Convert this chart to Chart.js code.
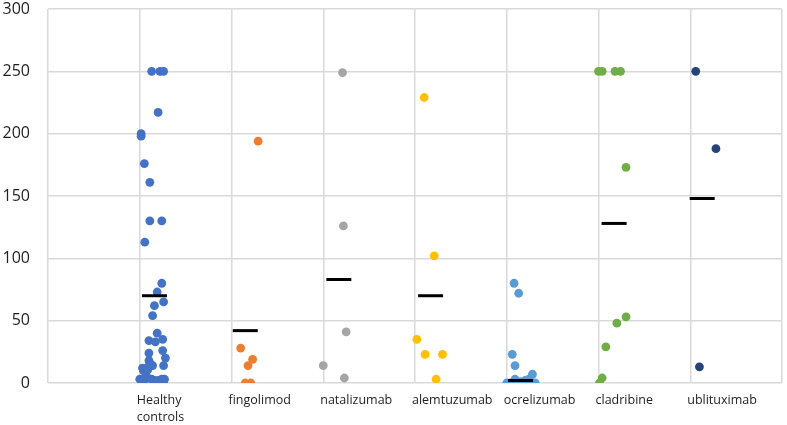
<!DOCTYPE html>
<html>
<head>
<meta charset="utf-8">
<script src="https://cdn.jsdelivr.net/npm/chart.js@4.4.1/dist/chart.umd.min.js"></script>
<style>
	html, body { margin: 0; padding: 0; background: #fff; }
	#wrap { width: 787px; height: 425px; }
</style>
</head>
<body>
<div id="wrap"><canvas id="strip-chart" width="787" height="425"></canvas></div>
<script>
// group names shown under each gridline
const categories = [
	["Healthy", "controls"],
	"fingolimod",
	"natalizumab",
	"alemtuzumab",
	"ocrelizumab",
	"cladribine",
	"ublituximab",
];

// each point is [x, value]; x is the jittered column position (group n sits at n..n+0.3)
const healthyControls = [
	[1.13, 250], [1.22, 250], [1.26, 250],
	[1.2, 217],
	[1.015, 200], [1.015, 198],
	[1.05, 176],
	[1.11, 161],
	[1.11, 130], [1.24, 130],
	[1.055, 113],
	[1.24, 80], [1.19, 73], [1.26, 65], [1.16, 62], [1.14, 54],
	[1.19, 40], [1.1, 34], [1.17, 33], [1.25, 35],
	[1.25, 26], [1.1, 24], [1.28, 20],
	[1.1, 18], [1.11, 16], [1.26, 14], [1.14, 14], [1.12, 14],
	[1.03, 12], [1.05, 11], [1.08, 12], [1.04, 10], [1.07, 9], [1.09, 11],
	[1.0, 3], [1.03, 3], [1.06, 3], [1.09, 4], [1.13, 3], [1.16, 2],
	[1.2, 2], [1.24, 3], [1.27, 3], [1.26, 0], [1.22, 1],
];
const fingolimod = [
	[2.29, 194], [2.1, 28], [2.23, 19], [2.18, 14], [2.15, 0], [2.21, 0],
];
const natalizumab = [
	[3.21, 249], [3.22, 126], [3.25, 41], [3.0, 14], [3.23, 4],
];
const alemtuzumab = [
	[4.1, 229], [4.21, 102], [4.02, 35], [4.11, 23], [4.3, 23], [4.23, 3],
];
const ocrelizumab = [
	[5.08, 80], [5.13, 72], [5.06, 23], [5.09, 14], [5.28, 7],
	[5.09, 3], [5.15, 1], [5.2, 2], [5.24, 3],
	[5.0, 0], [5.04, 0], [5.08, 0], [5.12, 0], [5.16, 0],
	[5.2, 0], [5.24, 0], [5.28, 0], [5.31, 0],
];
const cladribine = [
	[6.0, 250], [6.04, 250], [6.18, 250], [6.24, 250],
	[6.3, 173], [6.3, 53], [6.2, 48], [6.08, 29], [6.04, 4], [6.01, 0],
];
const ublituximab = [
	[7.06, 250], [7.28, 188], [7.1, 13],
];

// group means, drawn as short black dashes
const meanX = [1.16, 2.15, 3.17, 4.17, 5.15, 6.17, 7.13];
const meanValues = [70, 42, 83, 70, 2, 128, 148];

const groups = [healthyControls, fingolimod, natalizumab, alemtuzumab, ocrelizumab, cladribine, ublituximab];
const groupColors = ["#4472C4", "#ED7D31", "#A5A5A5", "#FFC000", "#5B9BD5", "#70AD47", "#264478"];

const toPoints = (pairs) => pairs.map((p) => ({ x: p[0], y: p[1] }));

const datasets = groups.map((g, i) => ({
	label: Array.isArray(categories[i]) ? categories[i].join(" ") : categories[i],
	data: toPoints(g),
	backgroundColor: groupColors[i],
	borderColor: groupColors[i],
	pointRadius: 4.4,
	borderWidth: 0,
	order: 2,
}));

datasets.push({
	label: "mean",
	data: meanX.map((x, i) => ({ x: x, y: meanValues[i] })),
	pointStyle: "line",
	pointRadius: 12.5,
	borderWidth: 3,
	borderColor: "#000",
	backgroundColor: "#000",
	order: 1,
});

const gridColor = "#d9d9d9";

const stripChart = new Chart(document.getElementById("strip-chart"), {
	type: "scatter",
	data: { datasets: datasets },
	options: {
		responsive: false,
		animation: false,
		events: [],
		layout: {
			autoPadding: false,
			padding: { top: 9, right: 5, left: 0, bottom: 0 },
		},
		plugins: {
			legend: { display: false },
			tooltip: { enabled: false },
		},
		scales: {
			x: {
				type: "linear",
				min: 0,
				max: 8,
				border: { display: false },
				grid: { color: gridColor, lineWidth: 1.5, drawTicks: false },
				afterBuildTicks: (axis) => {
					axis.ticks = [0, 1, 2, 3, 4, 5, 6, 7, 8].map((v) => ({ value: v }));
				},
				afterFit: (axis) => {
					axis.height = 42;
					axis.paddingLeft = 0;
					axis.paddingRight = 0;
				},
				ticks: {
					autoSkip: false,
					maxRotation: 0,
					align: "start",
					labelOffset: -3,
					padding: 9,
					color: "#1f1f1f",
					font: { family: "'Open Sans', sans-serif", size: 12.5, lineHeight: 1.35 },
					callback: (v) => (v >= 1 && v <= 7 ? categories[v - 1] : ""),
				},
			},
			y: {
				min: 0,
				max: 300,
				border: { display: false },
				grid: { color: gridColor, lineWidth: 1.5, drawTicks: false },
				afterFit: (axis) => {
					axis.width = 48;
					axis.paddingTop = 0;
					axis.paddingBottom = 0;
				},
				ticks: {
					stepSize: 50,
					padding: 18,
					color: "#1f1f1f",
					font: { family: "'Open Sans', sans-serif", size: 16 },
				},
			},
		},
	},
});
</script>
</body>
</html>
